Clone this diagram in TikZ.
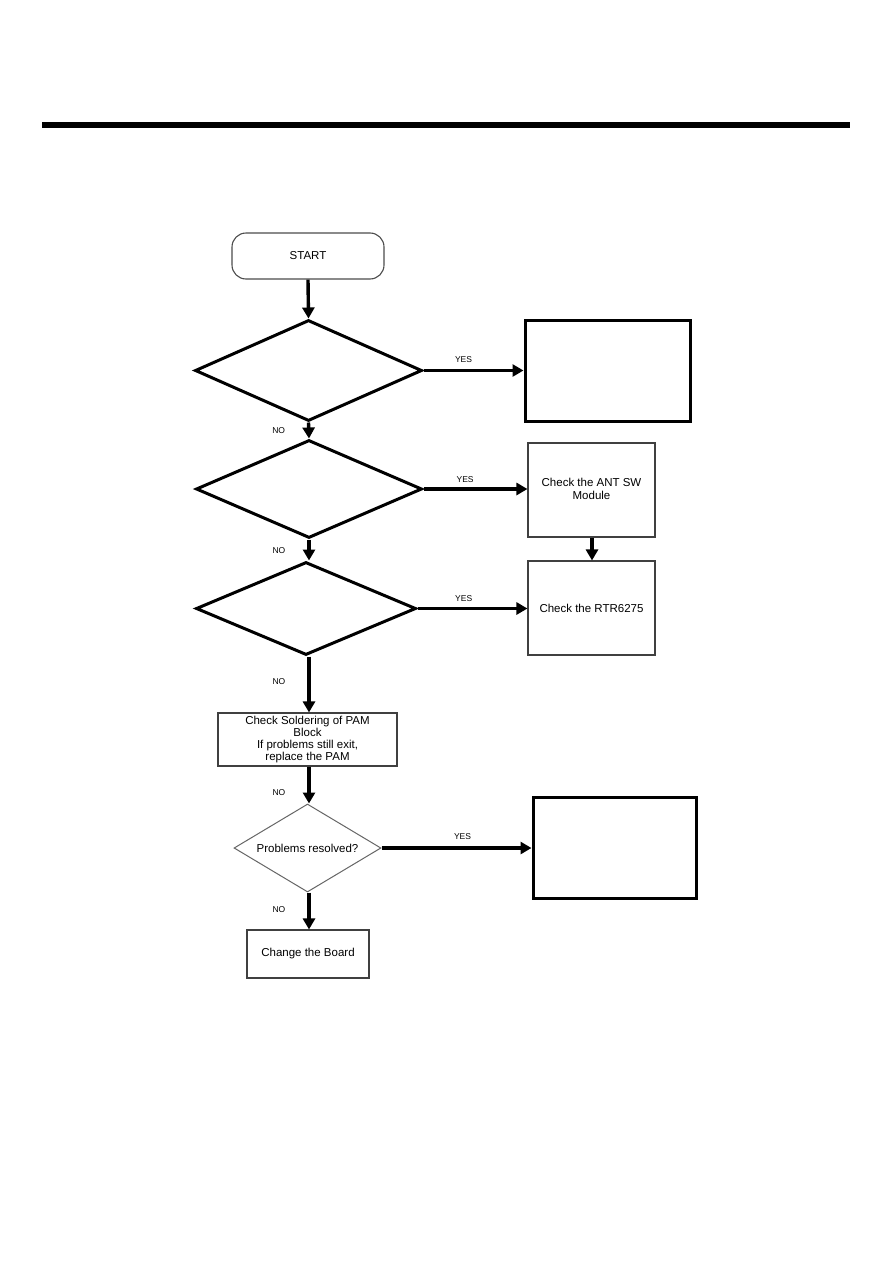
\documentclass[tikz,border=0pt]{standalone}
\usepackage{fontspec}
\setmainfont{Liberation Sans}
\usetikzlibrary{shapes.geometric,arrows.meta}
\begin{document}
\begin{tikzpicture}[x=1pt,y=-1pt,
  thickline/.style={line width=3pt},
  arr/.style={line width=3.4pt,-{Triangle[length=11pt,width=12pt]}},
  lbl/.style={font=\fontsize{8.5}{9}\selectfont,inner sep=0pt},
  txt/.style={font=\fontsize{11.5}{13}\selectfont,align=center},
  dia/.style={diamond,draw,thickline,inner sep=0pt},
  thinbox/.style={rectangle,draw=black!75,line width=1.1pt,txt,inner sep=0pt},
  thickbox/.style={rectangle,draw,thickline,inner sep=0pt}]
\useasboundingbox (0,0) rectangle (893,1263);
\fill[white] (0,0) rectangle (893,1263);
% top bar
\coordinate (barL) at (42,125);
\coordinate (barR) at (850,125);
\draw[line width=5.5pt] (barL) -- (barR);
% nodes
\node[draw=black!70,line width=1.1pt,rounded corners=14pt,minimum width=152pt,minimum height=46pt,txt] (start) at (308,256) {START};
\node[dia,minimum width=227pt,minimum height=101pt] (d1) at (308.5,370.5) {};
\node[thickbox,minimum width=165pt,minimum height=101pt] (b1) at (607.5,370.5) {};
\node[dia,minimum width=226pt,minimum height=98pt] (d2) at (309,489) {};
\node[thinbox,minimum width=127pt,minimum height=94pt] (b2) at (591.5,490) {\raisebox{8pt}{\begin{tabular}{@{}c@{}}Check the ANT SW\\Module\end{tabular}}};
\node[thinbox,minimum width=127pt,minimum height=94pt] (b3) at (591.5,608) {Check the RTR6275};
\node[dia,minimum width=220pt,minimum height=93pt] (d3) at (306,608.5) {};
\node[thinbox,minimum width=179pt,minimum height=53pt,font=\fontsize{11.5}{12.3}\selectfont] (b4) at (307.5,739.5) {Check Soldering of PAM\\Block\\If problems still exit,\\replace the PAM};
\node[diamond,draw=black!60,line width=1pt,inner sep=0pt,minimum width=147pt,minimum height=88pt] (d4) at (307.5,848) {};
\node[txt] (d4t) at (d4.center) {Problems resolved?};
\node[thickbox,minimum width=163pt,minimum height=101pt] (b5) at (614.5,847.5) {};
\node[thinbox,minimum width=122pt,minimum height=48pt] (b6) at (308,954) {Change the Board};
% connectors
\draw[arr] (start.south) -- (d1.north);
\draw[arr] (d1.east) -- node[lbl,above=6pt,pos=0.4]{YES} (b1.west);
\draw[arr] (d1.south) -- node[lbl,left=22pt,pos=0.5]{NO} (d2.north);
\draw[arr] (d2.east) -- node[lbl,above=5pt,pos=0.4]{YES} (b2.west |- d2.east);
\draw[arr] (b2.south -| 592,0) -- (b3.north -| 592,0);
\draw[arr] (d2.south) -- node[lbl,left=22pt,pos=0.55]{NO} (d3.north -| d2.south);
\draw[arr] (d3.east) -- node[lbl,above=5pt,pos=0.42]{YES} (b3.west |- d3.east);
\draw[arr] (d3.south -| d2.south) -- node[lbl,left=22pt,pos=0.45]{NO} (b4.north -| d2.south);
\draw[arr] (b4.south -| d2.south) -- node[lbl,left=22pt,pos=0.7]{NO} (d4.north -| d2.south);
\draw[arr] (d4.east) -- node[lbl,above=7pt,pos=0.54]{YES} (b5.west |- d4.east);
\draw[arr] (d4.south -| d2.south) -- node[lbl,left=22pt,pos=0.45]{NO} (b6.north -| d2.south);
\end{tikzpicture}
\end{document}
